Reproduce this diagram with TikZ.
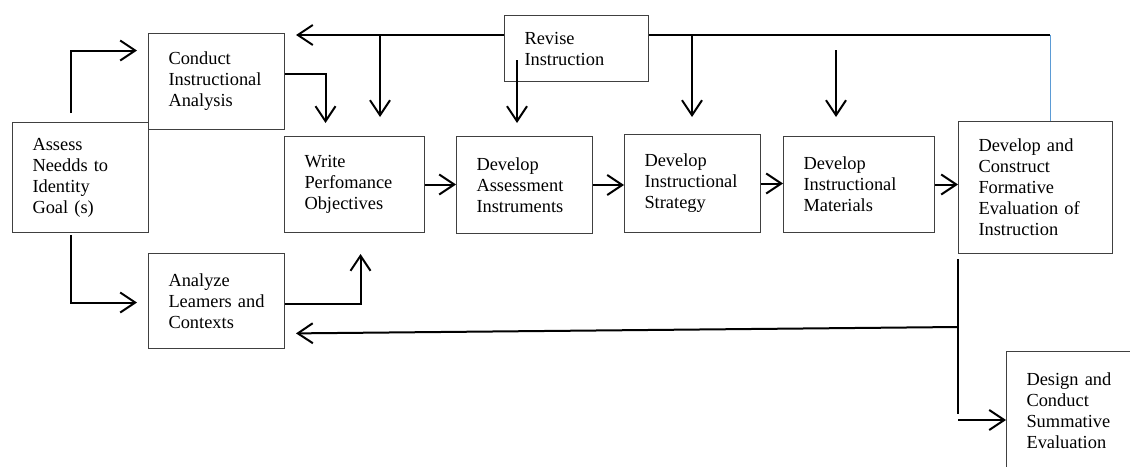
\documentclass[tikz,border=0pt]{standalone}
\usepackage{fontspec}
\setmainfont{Liberation Serif}
\usetikzlibrary{arrows.meta}
\newcommand\stagefont{\fontsize{18.4}{21}\selectfont}
\definecolor{linkblue}{RGB}{91,155,213}
\tikzset{
	stage/.style={draw=black!75, line width=1pt, anchor=north west, align=left, inner xsep=20pt, inner ysep=0pt, font=\stagefont},
	link/.style={line width=2pt},
	flow/.style={link, -{Straight Barb[length=15pt,width=20pt,line width=2pt]}},
}
\begin{document}
\begin{tikzpicture}[x=1pt,y=-1pt]
	\useasboundingbox (0,0) rectangle (1130,466);
	\node[stage, text width=96pt, minimum height=110pt] (assess) at (12,122) {Assess\\Needds to\\Identity\\Goal (s)};
	\node[stage, text width=96pt, minimum height=96pt] (conduct) at (148,33) {Conduct\\Instructional\\Analysis};
	\node[stage, text width=96pt, minimum height=95pt] (analyze) at (148,253) {Analyze\\\mbox{Leamers and}\\Contexts};
	\node[stage, text width=100pt, minimum height=96pt] (write) at (284,136) {Write\\Perfomance\\Objectives};
	\node[stage, text width=96pt, minimum height=97pt] (assessment) at (456,136) {Develop\\Assessment\\Instruments};
	\node[stage, text width=96pt, minimum height=98pt] (strategy) at (624,134) {Develop\\Instructional\\Strategy};
	\node[stage, text width=111pt, minimum height=96pt] (materials) at (783,136) {Develop\\Instructional\\Materials};
	\node[stage, text width=114pt, minimum height=132pt] (formative) at (958,121) {Develop and\\Construct\\Formative\\Evaluation of\\Instruction};
	\node[stage, text width=104pt, minimum height=66pt] (revise) at (504,15) {Revise\\Instruction};
	\node[stage, text width=100pt, minimum height=118pt] (summative) at (1006,351) {Design and\\Conduct\\Summative\\Evaluation};
	\coordinate (tr) at (1050,35);
	\coordinate (d1) at (380,35);
	\coordinate (d2) at (692,35);
	\coordinate (d3) at (836,50);
	\coordinate (r1) at (517,60);
	\coordinate (v1) at (958,259);
	\coordinate (v2) at (958,414);
	\coordinate (v3) at (958,327);
	\coordinate (v4) at (958,420);
	\draw[flow, shorten >=11pt] ([xshift=-10pt,yshift=9pt]assess.north) |- ([yshift=31pt]conduct.west);
	\draw[flow, shorten >=11pt] ([xshift=-10pt,yshift=-2pt]assess.south) |- ([yshift=-1.5pt]analyze.west);
	\draw[flow, shorten >=13pt] ([yshift=8pt]conduct.east) -| ([xshift=-29pt]write.north);
	\draw[flow, shorten >=21pt] ([yshift=-2.5pt]analyze.east) -| ([xshift=6pt]write.south);
	\draw[flow] (write.east) -- (assessment.west |- write.east);
	\draw[flow] (assessment.east) -- (strategy.west |- assessment.east);
	\draw[flow] (strategy.east) -- (materials.west |- strategy.east);
	\draw[flow] (materials.east) -- (formative.west |- materials.east);
	\draw[flow, shorten >=11pt] (revise.west |- tr) -- (conduct.east |- tr);
	\draw[link] (revise.east |- tr) -- (tr);
	\draw[linkblue, line width=1pt] (tr) -- (formative.north -| tr);
	\draw[flow, shorten >=19pt] (d1) -- (d1 |- write.north);
	\draw[flow, shorten >=17pt] (d2) -- (d2 |- strategy.north);
	\draw[flow, shorten >=19pt] (d3) -- (d3 |- materials.north);
	\draw[flow, shorten >=13pt] (r1) -- (r1 |- assessment.north);
	\draw[link] (v1) -- (v2);
	\draw[flow, shorten >=11pt] (v3) -- ([yshift=-32.5pt]analyze.east);
	\draw[flow] (v4) -- (summative.west |- v4);
\end{tikzpicture}
\end{document}
